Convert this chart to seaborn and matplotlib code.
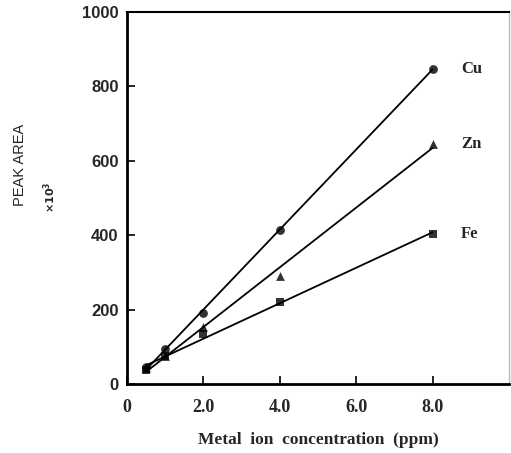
import matplotlib
matplotlib.use("Agg")
import matplotlib.pyplot as plt
import numpy as np
import pandas as pd
import seaborn as sns

# Calibration data: peak area (x10^3) vs metal ion concentration (ppm)
conc = [0.5, 1.0, 2.0, 4.0, 8.0]
cu_area = [46, 94, 190, 414, 848]
zn_area = [42, 76, 153, 291, 645]
fe_area = [38, 75, 134, 220, 404]

series_names = ["Cu", "Zn", "Fe"]
series_markers = ["o", "^", "s"]
x_ticks = [0, 2, 4, 6, 8]
x_tick_labels = ["0", "2.0", "4.0", "6.0", "8.0"]
y_ticks = [0, 200, 400, 600, 800, 1000]

df = pd.DataFrame({
    "conc": conc * 3,
    "area": cu_area + zn_area + fe_area,
    "metal": [m for m in series_names for _ in conc],
})

sns.set_style("ticks")
plt.rcParams["font.family"] = ["Liberation Sans", "DejaVu Sans"]

fig = plt.figure(figsize=(5.11, 4.53), dpi=100)
ax = fig.add_axes([0.2485, 0.1523, 0.7475, 0.8212])

for name, mk in zip(series_names, series_markers):
    sub = df[df["metal"] == name]
    sns.regplot(data=sub, x="conc", y="area", ax=ax, ci=None, truncate=True,
                marker=mk, color="black",
                scatter_kws={"s": 40, "linewidths": 0},
                line_kws={"linewidth": 1.3})
    ax.text(8.75, sub["area"].iloc[-1], name, ha="left", va="center",
            fontsize=12, fontweight="bold", family="Liberation Serif")

ax.set_xlim(0, 10)
ax.set_ylim(0, 1000)
ax.set_xticks(x_ticks)
ax.set_xticklabels(x_tick_labels, fontsize=13, fontweight="bold",
                   family="Liberation Serif")
ax.set_yticks(y_ticks)
ax.set_yticklabels([str(v) for v in y_ticks], fontsize=12, fontweight="bold")
ax.tick_params(axis="both", direction="in", length=6, width=1.2, color="black")
ax.tick_params(axis="x", pad=11)
ax.tick_params(axis="y", pad=6)

ax.set_xlabel("Metal  ion  concentration  (ppm)", fontsize=12.5,
              fontweight="bold", family="Liberation Serif", labelpad=11)
ax.set_ylabel("")

for side in ["left", "bottom"]:
    ax.spines[side].set_linewidth(2.0)
    ax.spines[side].set_color("black")
ax.spines["top"].set_visible(True)
ax.spines["top"].set_linewidth(1.5)
ax.spines["top"].set_color("black")
ax.spines["right"].set_visible(True)
ax.spines["right"].set_linewidth(1.0)
ax.spines["right"].set_color("#bbbbbb")

fig.text(20 / 511, 1 - 165 / 453, "PEAK AREA", rotation=90, ha="center",
         va="center", fontsize=10.5)
fig.text(50 / 511, 1 - 197 / 453, r"$\mathbf{\times10^3}$", rotation=90,
         ha="center", va="center", fontsize=8)

fig.savefig("out.png", dpi=100, facecolor="white")
